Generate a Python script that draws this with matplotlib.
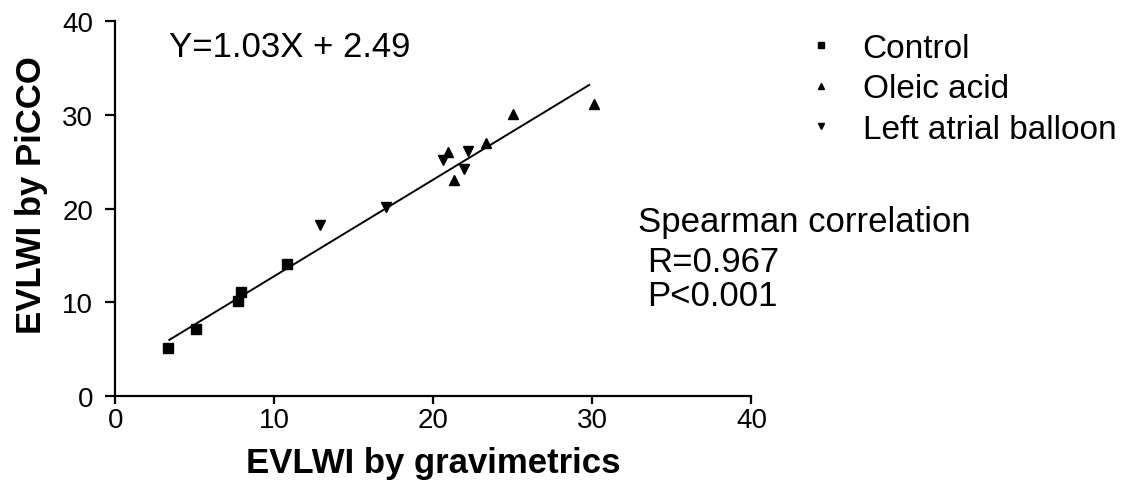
import matplotlib
matplotlib.use("Agg")
import matplotlib.pyplot as plt
import numpy as np

plt.rcParams['font.family'] = ['Liberation Sans', 'DejaVu Sans']

# Data
control_x = [3.3, 5.1, 7.7, 7.9, 10.8]
control_y = [5.1, 7.1, 10.1, 11.1, 14.1]
oleic_x = [20.9, 21.3, 23.3, 25.0, 30.1]
oleic_y = [26.0, 23.0, 27.0, 30.1, 31.1]
lab_x = [12.9, 17.0, 20.6, 21.9, 22.2]
lab_y = [18.2, 20.2, 25.2, 24.2, 26.1]
slope, intercept = 1.03, 2.49
fit_range = [3.4, 29.8]
ticks = [0, 10, 20, 30, 40]

fig = plt.figure(figsize=(11.3, 4.89), dpi=100)
ax = fig.add_axes([0.102, 0.188, 0.563, 0.767])

ms = 7.5
ax.plot(control_x, control_y, 's', color='black', ms=ms, label='Control', clip_on=False)
ax.plot(oleic_x, oleic_y, '^', color='black', ms=ms, label='Oleic acid', clip_on=False)
ax.plot(lab_x, lab_y, 'v', color='black', ms=ms, label='Left atrial balloon', clip_on=False)
fx = np.array(fit_range)
ax.plot(fx, slope * fx + intercept, '-', color='black', lw=1.4)

ax.set_xlim(0, 40)
ax.set_ylim(0, 40)
ax.set_xticks(ticks)
ax.set_yticks(ticks)
for s in ['top', 'right']:
    ax.spines[s].set_visible(False)
for s in ['left', 'bottom']:
    ax.spines[s].set_linewidth(1.6)
ax.tick_params(axis='x', direction='out', length=6, width=1.6, labelsize=20, pad=2)
ax.tick_params(axis='y', direction='out', length=7, width=1.6, labelsize=20, pad=9)

ax.set_xlabel('EVLWI by gravimetrics', fontsize=25, fontweight='bold', labelpad=9)
ax.set_ylabel('EVLWI by PiCCO', fontsize=25, fontweight='bold')
ax.yaxis.set_label_coords(-0.106, 0.539)

ax.text(3.4, 37.3, 'Y=1.03X + 2.49', fontsize=25, va='center', ha='left')

fig.text(0.565, 0.546, 'Spearman correlation', fontsize=25, va='center', ha='left')
fig.text(0.573, 0.464, 'R=0.967', fontsize=25, va='center', ha='left')
fig.text(0.573, 0.393, 'P<0.001', fontsize=25, va='center', ha='left')

leg = ax.legend(loc='upper left', bbox_to_anchor=(0.70, 0.958), bbox_transform=fig.transFigure,
                frameon=False, fontsize=24, markerscale=0.5, handlelength=1.0,
                handletextpad=0.75, labelspacing=0.28, borderaxespad=0)

fig.savefig('out.png', dpi=100)
